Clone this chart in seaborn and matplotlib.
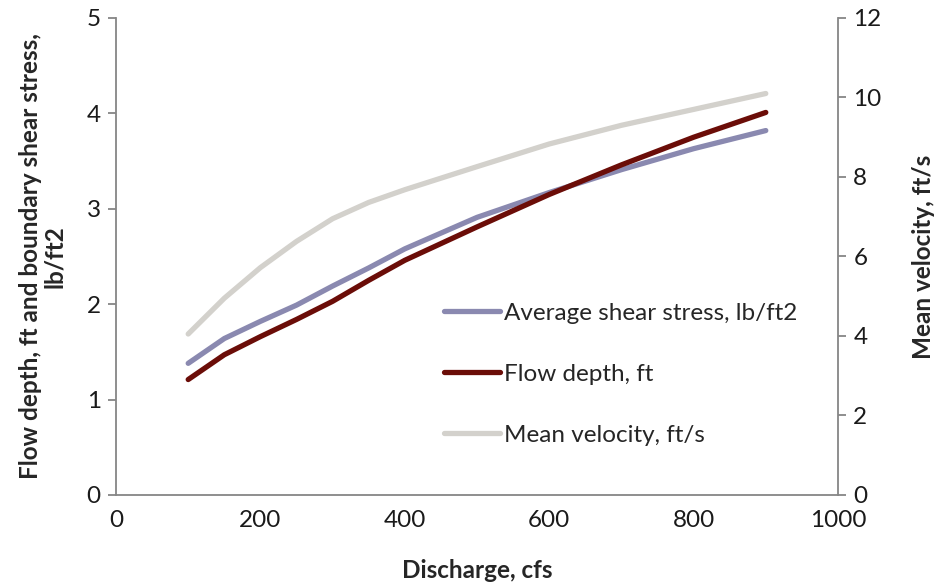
import matplotlib
matplotlib.use("Agg")
import matplotlib.pyplot as plt
import seaborn as sns
import pandas as pd

# discharge, cfs
discharge = [100, 150, 200, 250, 300, 350, 400, 500, 600, 700, 800, 900]
# left axis series
shear_stress = [1.38, 1.64, 1.82, 1.99, 2.19, 2.38, 2.58, 2.91, 3.17, 3.41, 3.63, 3.82]
flow_depth = [1.21, 1.47, 1.66, 1.84, 2.03, 2.25, 2.46, 2.81, 3.15, 3.46, 3.75, 4.01]
# right axis series
mean_velocity = [4.05, 4.95, 5.72, 6.38, 6.95, 7.36, 7.68, 8.26, 8.83, 9.30, 9.70, 10.10]

x_ticks = [0, 200, 400, 600, 800, 1000]
left_ticks = [0, 1, 2, 3, 4, 5]
right_ticks = [0, 2, 4, 6, 8, 10, 12]

df = pd.DataFrame({"Discharge": discharge, "Shear": shear_stress,
                   "Depth": flow_depth, "Velocity": mean_velocity})

sns.set_style("white")
plt.rcParams["font.family"] = ["Lato", "DejaVu Sans"]

fig = plt.figure(figsize=(9.34, 5.88), dpi=100)
ax = fig.add_axes([0.1242, 0.1582, 0.7730, 0.8112])
ax2 = ax.twinx()

lw = 3.8
sns.lineplot(data=df, x="Discharge", y="Shear", ax=ax, color="#8a89b0", lw=lw,
             label="Average shear stress, lb/ft2", legend=False,
             solid_capstyle="round", solid_joinstyle="round")
sns.lineplot(data=df, x="Discharge", y="Depth", ax=ax, color="#6b0d08", lw=lw,
             label="Flow depth, ft", legend=False, solid_capstyle="round",
             solid_joinstyle="round")
sns.lineplot(data=df, x="Discharge", y="Velocity", ax=ax2, color="#d3d1cc", lw=lw,
             label="Mean velocity, ft/s", legend=False, solid_capstyle="round",
             solid_joinstyle="round")

ax.set_xlim(0, 1000)
ax.set_ylim(0, 5)
ax2.set_ylim(0, 12)
ax.set_xticks(x_ticks)
ax.set_yticks(left_ticks)
ax2.set_yticks(right_ticks)

fs = 17.5
spine_col = "#868686"
for a in (ax, ax2):
    for s in a.spines.values():
        s.set_color(spine_col)
        s.set_linewidth(1.3)
    a.spines["top"].set_visible(False)
    a.tick_params(axis="both", which="major", direction="out", length=6,
                  width=1.3, color=spine_col, labelsize=fs, labelcolor="#1a1a1a",
                  pad=5)
ax.spines["right"].set_visible(False)
ax2.spines["left"].set_visible(False)
ax2.spines["bottom"].set_visible(False)
ax.grid(False)
ax2.grid(False)

ax.set_xlabel("Discharge, cfs", fontsize=fs, fontweight="bold", labelpad=20)
ax.set_ylabel("Flow depth, ft and boundary shear stress,\nlb/ft2", fontsize=fs,
              fontweight="bold", labelpad=15, linespacing=1.05)
ax2.set_ylabel("Mean velocity, ft/s", fontsize=fs, fontweight="bold", labelpad=22)

h1, l1 = ax.get_legend_handles_labels()
h2, l2 = ax2.get_legend_handles_labels()
fig.legend(h1 + h2, l1 + l2, loc="upper left", bbox_to_anchor=(0.465, 0.502),
           frameon=False, fontsize=fs, handlelength=2.3, handletextpad=0.15,
           labelspacing=1.65, borderaxespad=0)

fig.savefig("out.png", dpi=100)
